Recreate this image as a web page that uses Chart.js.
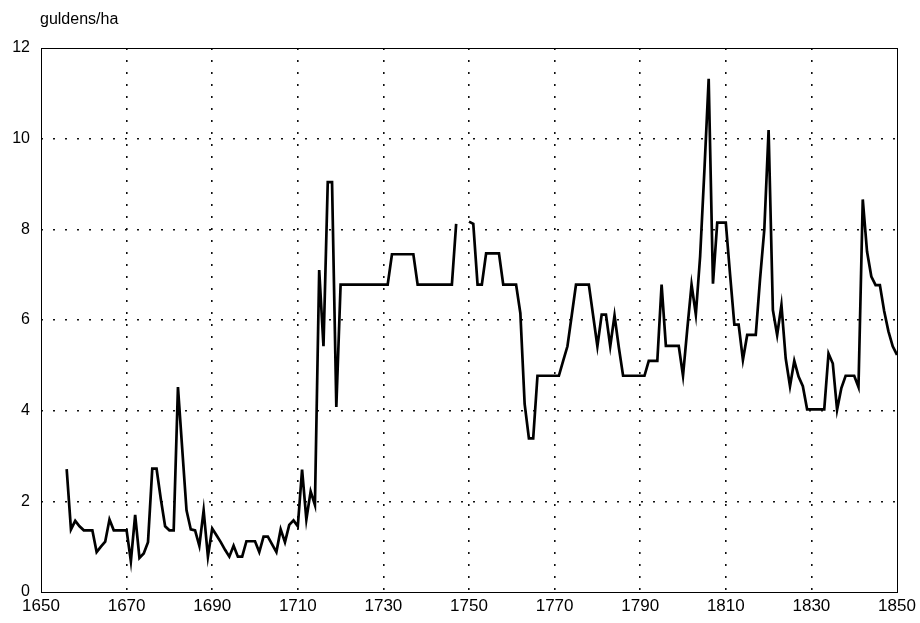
<!DOCTYPE html>
<html>
<head>
<meta charset="utf-8">
<script src="https://cdn.jsdelivr.net/npm/chart.js@4/dist/chart.umd.min.js"></script>
<style>
  html, body { margin: 0; padding: 0; background: #fff; }
  #wrap { width: 920px; height: 623px; }
</style>
</head>
<body>
<div id="wrap"><canvas id="chart" width="920" height="623"></canvas></div>
<script>
// land price series, one value per year starting at firstYear (null = no data)
const firstYear = 1656;
const prices1656 = [
  2.71, 1.38, 1.57, 1.45, 1.36, 1.36, 1.36, 0.88, 1.0, 1.11,
  1.6, 1.36, 1.36, 1.36, 1.36, 0.68, 1.7, 0.75, 0.85, 1.1,
  2.72, 2.72, 2.05, 1.45, 1.36, 1.36, 4.52, 3.15, 1.8, 1.38,
  1.36, 1.02, 1.8, 0.78, 1.4, 1.25, 1.1, 0.93, 0.78, 1.02,
  0.78, 0.78, 1.12, 1.12
];
const prices1700 = [
  1.12, 0.88, 1.22, 1.22, 1.05, 0.88, 1.38, 1.1, 1.48, 1.58,
  1.45, 2.7, 1.6, 2.22, 1.92, 7.1, 5.42, 9.04, 9.04, 4.08,
  6.78, 6.78, 6.78, 6.78, 6.78, 6.78, 6.78, 6.78, 6.78, 6.78,
  6.78, 6.78, 7.45, 7.45, 7.45, 7.45, 7.45, 7.45, 6.78, 6.78,
  6.78, 6.78, 6.78, 6.78, 6.78, 6.78, 6.78, 8.12, null, null
];
const prices1750 = [
  8.17, 8.12, 6.78, 6.78, 7.47, 7.47, 7.47, 7.47, 6.78, 6.78,
  6.78, 6.78, 6.15, 4.15, 3.39, 3.39, 4.77, 4.77, 4.77, 4.77,
  4.77, 4.77, 5.1, 5.42, 6.1, 6.78, 6.78, 6.78, 6.78, 6.1,
  5.42, 6.12, 6.12, 5.42, 6.1, 5.4, 4.77, 4.77, 4.77, 4.77,
  4.77, 4.77, 5.1, 5.1, 5.1, 6.78, 5.43, 5.43, 5.43, 5.43
];
const prices1800 = [
  4.77, 5.8, 6.78, 6.12, 7.4, 9.3, 11.32, 6.8, 8.15, 8.15,
  8.15, 7.0, 5.9, 5.9, 5.12, 5.67, 5.67, 5.67, 6.9, 8.0,
  10.19, 6.22, 5.67, 6.33, 5.15, 4.54, 5.1, 4.75, 4.54, 4.03,
  4.03, 4.03, 4.03, 4.03, 5.26, 5.04, 4.02, 4.5, 4.77, 4.77,
  4.77, 4.52, 8.66, 7.51, 6.96, 6.77, 6.77, 6.2, 5.75, 5.42,
  5.23
];

const xTicks = [1650, 1670, 1690, 1710, 1730, 1750, 1770, 1790, 1810, 1830, 1850];
const yTicks = [0, 2, 4, 6, 8, 10, 12];
const unitLabel = 'guldens/ha';

const FONT = { family: '"Liberation Sans", Arial, sans-serif', size: 16 };
const X_FONT = { family: FONT.family, size: 17 };

const prices = [].concat(prices1656, prices1700, prices1750, prices1800);
const points = prices.map((value, i) => ({ x: firstYear + i, y: value }));

// frame round the plot area plus the unit label top left
const framePlugin = {
  id: 'frame',
  afterDraw(chart) {
    const { ctx, chartArea: a } = chart;
    ctx.save();
    ctx.strokeStyle = '#000';
    ctx.lineWidth = 1;
    ctx.strokeRect(a.left + 0.5, a.top + 0.5, a.right - a.left, a.bottom - a.top);
    ctx.fillStyle = '#000';
    ctx.font = `${FONT.size}px ${FONT.family}`;
    ctx.textBaseline = 'middle';
    ctx.textAlign = 'left';
    ctx.fillText(unitLabel, a.left - 1, 20);
    ctx.restore();
  }
};

function edgeAware(min, max) {
  return (c) => (c.tick && (c.tick.value === min || c.tick.value === max)) ? 'rgba(0,0,0,0)' : '#111';
}

new Chart(document.getElementById('chart'), {
  type: 'line',
  data: {
    datasets: [{
      data: points,
      borderColor: '#000',
      borderWidth: 2.7,
      pointRadius: 0,
      tension: 0,
      spanGaps: false,
      fill: false
    }]
  },
  options: {
    responsive: false,
    animation: false,
    layout: { padding: { top: 48, right: 23, left: 0, bottom: 0 } },
    plugins: { legend: { display: false }, tooltip: { enabled: false } },
    scales: {
      x: {
        type: 'linear',
        min: xTicks[0],
        max: xTicks[xTicks.length - 1],
        afterBuildTicks: (s) => { s.ticks = xTicks.map(v => ({ value: v })); },
        afterFit: (s) => { s.height = 31; },
        ticks: { color: '#000', font: X_FONT, padding: 4, maxRotation: 0, callback: (v) => String(v) },
        grid: { color: edgeAware(1650, 1850), lineWidth: 1.6, drawTicks: false },
        border: { display: false, dash: [2, 10] }
      },
      y: {
        min: yTicks[0],
        max: yTicks[yTicks.length - 1],
        afterBuildTicks: (s) => { s.ticks = yTicks.map(v => ({ value: v })); },
        afterFit: (s) => { s.width = 41; },
        ticks: { color: '#000', font: FONT, padding: 11, callback: (v) => String(v) },
        grid: { color: edgeAware(0, 12), lineWidth: 1.6, drawTicks: false },
        border: { display: false, dash: [2, 10] }
      }
    }
  },
  plugins: [framePlugin]
});
</script>
</body>
</html>
